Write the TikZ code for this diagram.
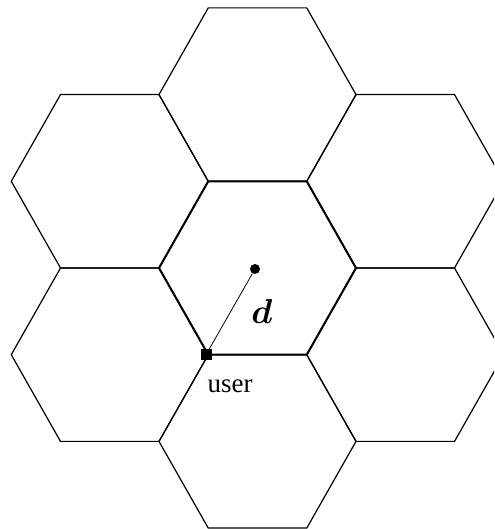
\documentclass[tikz,border=0pt]{standalone}
\usepackage{amsmath}
\usepackage{fontspec}
\setmainfont{Liberation Serif}
\def\hr{98.5}
\def\hs{49.25}
\def\hh{86.7}
\begin{document}
\begin{tikzpicture}[
    x=0.5pt, y=0.5pt,
    cell/.style={draw, line width=0.6pt},
    midcell/.style={draw, line width=1pt},
    base/.style={circle, fill, inner sep=0pt, minimum size=5pt},
    mobile/.style={rectangle, fill, inner sep=0pt, minimum size=5.5pt},
    link/.style={line width=0.4pt}
]
\useasboundingbox (0,0) rectangle (494,529);
\clip (0,0) rectangle (494,529);

% neighbouring cells
\foreach \cx/\cy in {257.5/434.4, 257.5/87.6, 109.75/347.7, 405.25/347.7, 109.75/174.3, 405.25/174.3} {
  \draw[cell, shift={(\cx,\cy)}] (\hr,0) -- (\hs,\hh) -- (-\hs,\hh) -- (-\hr,0) -- (-\hs,-\hh) -- (\hs,-\hh) -- cycle;
}

% serving cell
\draw[midcell, shift={(257.5,261)}] (\hr,0) -- (\hs,\hh) -- (-\hs,\hh) -- (-\hr,0) -- (-\hs,-\hh) -- (\hs,-\hh) -- cycle;

\node[base] (bs) at (255,260) {};
\node[mobile] (user) at (206,174.3) {};
\draw[link] (user) -- (bs);
\node[font=\fontsize{16}{18}\selectfont] (dist) at (262,217) {$\boldsymbol{d}$};
\node[font=\fontsize{13.5}{15}\selectfont] (ulabel) at (230,143) {user};
\end{tikzpicture}
\end{document}
